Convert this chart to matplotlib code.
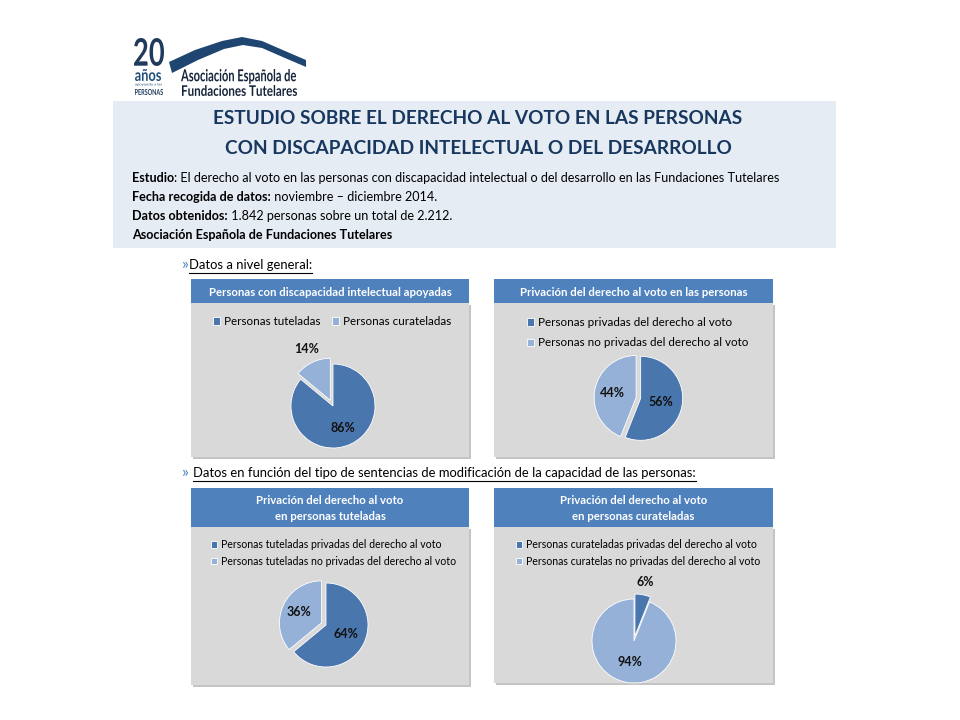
import numpy as np
import matplotlib
matplotlib.use("Agg")
import matplotlib.pyplot as plt
from matplotlib.patches import Rectangle, Polygon, PathPatch
from matplotlib.textpath import TextPath
from matplotlib.font_manager import FontProperties
from matplotlib.transforms import Affine2D

plt.rcParams['font.family'] = ['Lato', 'DejaVu Sans']

# ---- texts ----
title_lines = ['ESTUDIO SOBRE EL DERECHO AL VOTO EN LAS PERSONAS',
               'CON DISCAPACIDAD INTELECTUAL O DEL DESARROLLO']
info_bold = ['Estudio', 'Fecha recogida de datos:', 'Datos obtenidos:',
             'Asociación Española de Fundaciones Tutelares']
info_rest = [': El derecho al voto en las personas con discapacidad intelectual o del desarrollo en las Fundaciones Tutelares',
             ' noviembre – diciembre 2014.',
             ' 1.842 personas sobre un total de 2.212.',
             '']
section_1 = 'Datos a nivel general:'
section_2 = 'Datos en función del tipo de sentencias de modificación de la capacidad de las personas:'

# ---- pie data ----
p1_title = 'Personas con discapacidad intelectual apoyadas'
p1_labels = ['Personas tuteladas', 'Personas curateladas']
p1_values = [86, 14]

p2_title = 'Privación del derecho al voto en las personas'
p2_labels = ['Personas privadas del derecho al voto',
             'Personas no privadas del derecho al voto']
p2_values = [56, 44]

p3_title = 'Privación del derecho al voto\nen personas tuteladas'
p3_labels = ['Personas tuteladas privadas del derecho al voto',
             'Personas tuteladas no privadas del derecho al voto']
p3_values = [64, 36]

p4_title = 'Privación del derecho al voto\nen personas curateladas'
p4_labels = ['Personas curateladas privadas del derecho al voto',
             'Personas curatelas no privadas del derecho al voto']
p4_values = [6, 94]

W, H = 960, 720
DARK = '#4A76AE'
LIGHT = '#95B1D7'
HEAD = '#4F81BD'
BODY = '#D9D9D9'
NAVY = '#17375E'

fig = plt.figure(figsize=(W / 100, H / 100), dpi=100)
bg = fig.add_axes([0, 0, 1, 1])
bg.set_xlim(0, W)
bg.set_ylim(H, 0)
bg.axis('off')


def fit_text(s, x0, y0, x1, y1, color, weight='bold'):
    tp = TextPath((0, 0), s, size=10, prop=FontProperties(family='Lato', weight=weight))
    bb = tp.get_extents()
    tr = Affine2D().translate(-bb.x0, -bb.y0).scale((x1 - x0) / bb.width, -(y1 - y0) / bb.height).translate(x0, y1)
    bg.add_patch(PathPatch(tr.transform_path(tp), color=color, lw=0))


def right_of(t):
    r = fig.canvas.get_renderer()
    bb = t.get_window_extent(r)
    x, _ = bg.transData.inverted().transform((bb.x1, bb.y0))
    return x


# ---- logo ----
fit_text('20', 134, 38, 164, 66, '#1F3A5C')
fit_text('años', 135, 69, 161, 81, '#1F4E79')
fit_text('apoyando a las', 135, 83, 162, 86, '#1F4E79', weight='normal')
fit_text('PERSONAS', 135, 89, 163, 95, '#1F3A5C')
roof = [(169, 62), (195, 50), (222, 41), (242, 37), (262, 41), (285, 51), (306, 60),
        (306, 67), (285, 58), (262, 48), (243, 45), (224, 49), (198, 60), (172, 73)]
bg.add_patch(Polygon(roof, closed=True, color='#1F4670', lw=0))
fit_text('Asociación Española de', 181, 69, 296, 84, '#16243A')
fit_text('Fundaciones Tutelares', 182, 85, 297, 96, '#16243A')

# ---- header band ----
bg.add_patch(Rectangle((113, 101), 723, 147, color='#E6ECF4', lw=0))
bg.text(478, 118, title_lines[0], ha='center', va='center', fontsize=13.7,
        fontweight='bold', color=NAVY)
bg.text(478, 148, title_lines[1], ha='center', va='center', fontsize=13.7,
        fontweight='bold', color=NAVY)
for i, (b, rest) in enumerate(zip(info_bold, info_rest)):
    y = 178 + 19 * i
    t = bg.text(132, y, b, ha='left', va='center', fontsize=9.05, fontweight='bold', color='black')
    if rest:
        bg.text(right_of(t), y, rest, ha='left', va='center', fontsize=9.05, color='black')


def section(y, text, sep):
    t = bg.text(182, y, '»' + sep, ha='left', va='center', fontsize=11.5, color=HEAD)
    x = right_of(t)
    t2 = bg.text(x, y, text, ha='left', va='center', fontsize=9.4, color='black')
    x2 = right_of(t2)
    bg.plot([x, x2], [y + 7.5, y + 7.5], color='black', lw=0.8)


section(265, section_1, '')
section(473, section_2, ' ')


def panel(x0, y0, w, hh, hb, title):
    bg.add_patch(Rectangle((x0 + 2, y0 + hh + 2), w, hb, color='#C4C4C4', lw=0))
    bg.add_patch(Rectangle((x0, y0), w, hh, color=HEAD, lw=0))
    bg.add_patch(Rectangle((x0, y0 + hh), w, hb, color=BODY, lw=0))
    bg.text(x0 + w / 2, y0 + hh / 2 + 1, title, ha='center', va='center', fontsize=8.2,
            fontweight='bold', color='white', linespacing=1.45)


panel(191, 279, 278, 24, 154, p1_title)
panel(494, 279, 279, 24, 154, p2_title)
panel(191, 488, 278, 39, 158, p3_title)
panel(494, 488, 279, 39, 156, p4_title)


def pie(cx, cy, values, labels, explode, dists, leg_xy, leg_loc, ncol, fs_leg, lspace):
    r = 42
    lim = 1.7
    s = 2 * lim * r
    ax = fig.add_axes([(cx - s / 2) / W, 1 - (cy + s / 2) / H, s / W, s / H])
    wedges, _, autos = ax.pie(values, colors=[DARK, LIGHT], explode=explode, startangle=90,
                              counterclock=False, autopct=lambda p: f'{p:.0f}%',
                              wedgeprops=dict(edgecolor='white', linewidth=0.6),
                              textprops=dict(fontsize=9, fontweight='bold', color='#111111'))
    for w, t, d in zip(wedges, autos, dists):
        a = np.deg2rad((w.theta1 + w.theta2) / 2)
        t.set_position((w.center[0] + d * np.cos(a), w.center[1] + d * np.sin(a)))
    ax.set_xlim(-lim, lim)
    ax.set_ylim(-lim, lim)
    ax.set_aspect('equal')
    ax.axis('off')
    ax.legend(wedges, labels, loc=leg_loc, bbox_to_anchor=leg_xy, bbox_transform=bg.transData,
              ncol=ncol, frameon=False, fontsize=fs_leg, handlelength=0.6, handleheight=0.6,
              handletextpad=0.35, columnspacing=1.0, labelspacing=lspace,
              borderpad=0, borderaxespad=0)


pie(333, 406, p1_values, p1_labels, [0, 0.15], [0.58, 1.35], (332, 316), 'upper center', 2, 8.4, 0.5)
pie(639, 398, p2_values, p2_labels, [0.04, 0.07], [0.5, 0.58], (527, 317), 'upper left', 1, 8.4, 0.8)
pie(326, 625, p3_values, p3_labels, [0, 0.12], [0.53, 0.58], (211, 539), 'upper left', 1, 7.6, 0.55)
pie(634, 641, p4_values, p4_labels, [0.12, 0], [1.3, 0.5], (516, 539), 'upper left', 1, 7.6, 0.55)

fig.savefig('out.png', dpi=100)
